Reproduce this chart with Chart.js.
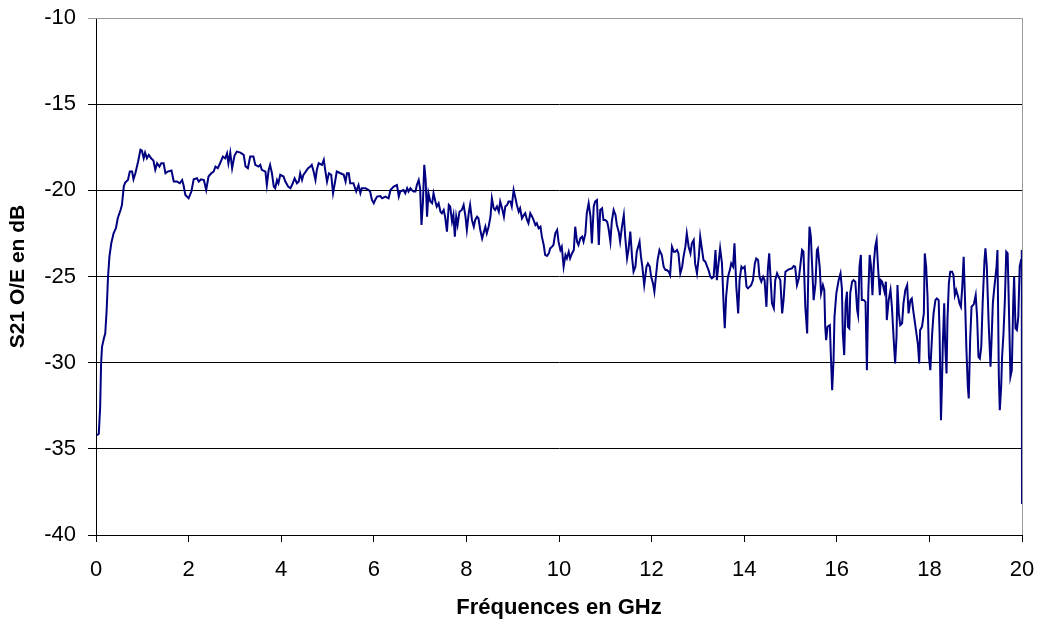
<!DOCTYPE html>
<html>
<head>
<meta charset="utf-8">
<script src="https://cdn.jsdelivr.net/npm/chart.js@4/dist/chart.umd.min.js"></script>
<style>
  body { margin: 0; background: #fff; }
  #wrap { width: 1041px; height: 623px; }
</style>
</head>
<body>
<div id="wrap"><canvas id="c" width="1041" height="623"></canvas></div>
<script>
// frequency in GHz
const freq = [
  0.02, 0.06, 0.09, 0.11, 0.13, 0.17, 0.20, 0.23, 0.26, 0.29, 0.33, 0.38, 0.43, 0.47, 0.53, 0.56, 0.60, 0.63, 0.69, 0.73,
  0.78, 0.81, 0.85, 0.91, 0.96, 0.99, 1.03, 1.06, 1.10, 1.14, 1.19, 1.24, 1.28, 1.32, 1.37, 1.41, 1.46, 1.50, 1.55, 1.63,
  1.68, 1.75, 1.81, 1.86, 1.89, 1.93, 2.00, 2.06, 2.11, 2.18, 2.22, 2.27, 2.33, 2.38, 2.43, 2.49, 2.54, 2.58, 2.63, 2.68,
  2.74, 2.79, 2.83, 2.86, 2.90, 2.94, 2.99, 3.04, 3.12, 3.19, 3.23, 3.28, 3.33, 3.40, 3.44, 3.51, 3.55, 3.58, 3.66, 3.69,
  3.73, 3.76, 3.80, 3.84, 3.87, 3.91, 3.94, 3.98, 4.05, 4.09, 4.15, 4.20, 4.25, 4.29, 4.34, 4.38, 4.41, 4.45, 4.48, 4.53,
  4.58, 4.63, 4.66, 4.70, 4.74, 4.77, 4.81, 4.88, 4.92, 4.95, 4.99, 5.03, 5.08, 5.12, 5.17, 5.20, 5.28, 5.35, 5.39, 5.42,
  5.46, 5.49, 5.56, 5.62, 5.67, 5.71, 5.74, 5.82, 5.89, 5.92, 5.96, 6.00, 6.03, 6.07, 6.14, 6.18, 6.25, 6.32, 6.36, 6.43,
  6.50, 6.54, 6.57, 6.64, 6.68, 6.72, 6.75, 6.79, 6.82, 6.86, 6.90, 6.93, 6.97, 7.00, 7.03, 7.06, 7.09, 7.12, 7.15, 7.18,
  7.22, 7.26, 7.29, 7.33, 7.36, 7.40, 7.44, 7.47, 7.51, 7.54, 7.58, 7.62, 7.65, 7.69, 7.72, 7.75, 7.78, 7.81, 7.85, 7.90,
  7.94, 7.98, 8.01, 8.05, 8.08, 8.12, 8.16, 8.19, 8.23, 8.26, 8.30, 8.34, 8.37, 8.41, 8.44, 8.48, 8.52, 8.55, 8.59, 8.62,
  8.66, 8.70, 8.73, 8.77, 8.81, 8.84, 8.88, 8.91, 8.95, 8.98, 9.02, 9.06, 9.09, 9.13, 9.16, 9.20, 9.24, 9.27, 9.31, 9.34,
  9.38, 9.42, 9.45, 9.49, 9.52, 9.56, 9.60, 9.63, 9.67, 9.70, 9.74, 9.78, 9.81, 9.85, 9.88, 9.92, 9.96, 9.99, 10.03, 10.06,
  10.10, 10.14, 10.17, 10.21, 10.24, 10.28, 10.32, 10.35, 10.39, 10.42, 10.46, 10.50, 10.53, 10.57, 10.60, 10.64, 10.68, 10.71, 10.75, 10.78,
  10.82, 10.86, 10.89, 10.93, 10.96, 11.00, 11.04, 11.07, 11.11, 11.14, 11.18, 11.22, 11.25, 11.29, 11.32, 11.36, 11.40, 11.43, 11.47, 11.50,
  11.54, 11.58, 11.61, 11.65, 11.68, 11.74, 11.77, 11.80, 11.84, 11.89, 11.92, 11.96, 11.99, 12.03, 12.06, 12.10, 12.13, 12.17, 12.22, 12.26,
  12.30, 12.33, 12.37, 12.40, 12.44, 12.48, 12.51, 12.55, 12.58, 12.62, 12.66, 12.69, 12.73, 12.76, 12.80, 12.84, 12.87, 12.91, 12.94, 12.98,
  13.02, 13.05, 13.09, 13.12, 13.16, 13.20, 13.23, 13.27, 13.30, 13.34, 13.38, 13.41, 13.45, 13.48, 13.52, 13.56, 13.58, 13.61, 13.65, 13.69,
  13.72, 13.76, 13.79, 13.83, 13.87, 13.90, 13.94, 13.97, 14.01, 14.05, 14.08, 14.12, 14.15, 14.19, 14.23, 14.26, 14.30, 14.33, 14.37, 14.41,
  14.44, 14.48, 14.51, 14.54, 14.56, 14.60, 14.64, 14.67, 14.71, 14.74, 14.78, 14.82, 14.85, 14.89, 14.96, 15.03, 15.07, 15.10, 15.14, 15.18,
  15.21, 15.25, 15.28, 15.32, 15.36, 15.39, 15.41, 15.44, 15.46, 15.50, 15.54, 15.57, 15.59, 15.63, 15.66, 15.70, 15.73, 15.75, 15.77, 15.80,
  15.85, 15.87, 15.90, 15.93, 15.95, 15.99, 16.04, 16.08, 16.11, 16.13, 16.16, 16.19, 16.22, 16.24, 16.27, 16.29, 16.33, 16.36, 16.40, 16.44,
  16.46, 16.49, 16.52, 16.54, 16.58, 16.62, 16.65, 16.68, 16.71, 16.74, 16.77, 16.80, 16.83, 16.86, 16.89, 16.93, 16.95, 16.98, 17.03, 17.06,
  17.08, 17.12, 17.16, 17.19, 17.23, 17.26, 17.29, 17.31, 17.34, 17.37, 17.41, 17.44, 17.48, 17.52, 17.55, 17.59, 17.62, 17.65, 17.68, 17.72,
  17.75, 17.78, 17.80, 17.84, 17.88, 17.90, 17.93, 17.96, 17.99, 18.02, 18.06, 18.09, 18.13, 18.16, 18.20, 18.22, 18.25, 18.27, 18.29, 18.32,
  18.34, 18.37, 18.39, 18.42, 18.45, 18.49, 18.52, 18.55, 18.58, 18.62, 18.65, 18.68, 18.71, 18.74, 18.77, 18.80, 18.83, 18.85, 18.88, 18.91,
  18.96, 19.00, 19.03, 19.06, 19.09, 19.12, 19.15, 19.19, 19.21, 19.24, 19.28, 19.32, 19.34, 19.37, 19.40, 19.42, 19.45, 19.47, 19.50, 19.52,
  19.55, 19.57, 19.60, 19.63, 19.66, 19.69, 19.72, 19.75, 19.78, 19.81, 19.83, 19.86, 19.89, 19.92, 19.95, 19.98, 19.995, 20.00
];

// S21 O/E in dB
const s21 = [
  -34.21, -34.12, -32.57, -30.05, -29.08, -28.6, -28.3, -26.95, -25.01, -23.85, -23.07, -22.49, -22.2, -21.62, -21.14, -20.85, -19.78, -19.55, -19.4, -18.91,
  -18.91, -19.36, -19.01, -18.33, -17.65, -17.69, -18.14, -17.81, -18.14, -17.94, -18.14, -18.27, -18.81, -18.43, -18.62, -18.43, -18.43, -19.01, -18.91, -18.85,
  -19.49, -19.49, -19.59, -19.4, -19.69, -20.27, -20.46, -20.07, -19.36, -19.3, -19.49, -19.36, -19.4, -19.98, -19.2, -19.01, -18.91, -18.62, -18.72, -18.43,
  -18.04, -18.14, -17.85, -18.43, -17.81, -18.72, -18.0, -17.75, -17.81, -17.94, -18.62, -18.72, -18.04, -18.04, -18.52, -18.62, -18.52, -18.81, -18.91, -19.69,
  -18.81, -18.52, -19.01, -19.78, -19.88, -19.4, -19.59, -19.1, -19.2, -19.49, -19.78, -19.88, -19.59, -19.3, -19.59, -19.49, -19.01, -19.4, -19.1, -18.91,
  -18.72, -18.62, -18.52, -18.91, -19.4, -18.81, -18.43, -18.52, -18.23, -18.81, -19.49, -19.01, -19.1, -20.17, -19.4, -18.91, -19.01, -19.1, -19.49, -19.01,
  -19.01, -19.59, -19.59, -20.07, -19.69, -20.17, -19.88, -19.88, -19.98, -20.07, -20.56, -20.75, -20.56, -20.36, -20.33, -20.46, -20.36, -20.46, -19.98, -19.78,
  -19.69, -20.36, -20.07, -19.98, -20.17, -19.88, -20.07, -19.88, -19.98, -20.07, -20.07, -19.69, -19.4, -19.88, -22.01, -20.75, -18.52, -19.4, -21.53, -20.17,
  -20.65, -20.75, -20.17, -20.65, -20.94, -20.75, -21.24, -21.33, -21.14, -21.53, -22.4, -20.85, -20.94, -21.82, -21.43, -22.69, -21.53, -22.01, -21.24, -21.14,
  -20.85, -21.53, -22.3, -21.33, -20.85, -21.72, -22.11, -21.72, -21.53, -21.62, -22.3, -22.79, -22.49, -22.11, -22.49, -22.11, -21.53, -20.46, -21.04, -21.14,
  -20.94, -21.24, -20.65, -21.04, -21.53, -20.94, -20.85, -20.65, -20.65, -20.94, -19.98, -20.46, -20.85, -21.24, -21.04, -21.62, -21.43, -21.33, -21.72, -21.91,
  -21.33, -21.53, -21.72, -22.01, -21.91, -22.2, -22.11, -22.69, -23.17, -23.75, -23.81, -23.66, -23.37, -23.27, -23.17, -22.49, -22.3, -22.98, -23.46, -23.27,
  -24.43, -23.75, -23.95, -23.56, -23.95, -23.66, -23.46, -22.11, -22.98, -23.17, -22.79, -22.69, -22.98, -22.5, -21.33, -20.75, -21.53, -23.08, -20.95, -20.65,
  -20.56, -23.17, -21.14, -21.04, -21.72, -21.72, -21.82, -22.2, -22.98, -21.82, -21.14, -21.43, -22.01, -22.4, -22.98, -22.11, -21.43, -22.69, -23.95, -23.46,
  -22.4, -23.95, -24.72, -24.43, -23.56, -22.98, -23.85, -24.43, -25.5, -24.43, -24.24, -24.43, -25.01, -25.4, -25.88, -24.82, -24.04, -23.46, -23.75, -24.43,
  -24.63, -24.63, -24.72, -24.92, -23.27, -23.56, -23.56, -23.46, -23.66, -24.82, -24.43, -23.85, -23.27, -22.5, -23.27, -23.66, -23.08, -22.88, -24.24, -24.82,
  -23.85, -22.69, -23.46, -24.04, -24.14, -24.43, -24.63, -25.01, -25.11, -25.01, -23.46, -25.21, -24.14, -23.37, -24.24, -26.95, -28.0, -26.17, -25.01, -24.63,
  -24.24, -24.43, -23.08, -25.59, -27.14, -25.21, -24.43, -24.53, -24.43, -25.59, -25.69, -25.59, -25.5, -25.21, -24.24, -23.95, -24.04, -25.01, -25.3, -25.01,
  -25.21, -26.76, -24.63, -23.66, -24.63, -26.56, -26.85, -25.21, -24.82, -25.01, -25.21, -27.14, -26.37, -24.72, -24.59, -24.53, -24.39, -24.43, -25.5, -25.11,
  -24.43, -23.46, -23.56, -26.76, -28.31, -24.04, -22.11, -22.69, -23.95, -26.37, -25.4, -23.46, -23.37, -24.43, -25.98, -25.5, -25.79, -27.92, -28.69, -27.92,
  -27.82, -29.47, -31.6, -29.85, -27.34, -25.98, -25.21, -24.82, -25.69, -28.31, -29.56, -26.56, -25.88, -27.92, -28.01, -25.98, -25.3, -25.21, -25.3, -26.95,
  -27.24, -24.43, -23.75, -26.37, -26.37, -26.47, -30.44, -25.98, -23.75, -24.43, -26.08, -24.24, -23.27, -22.88, -24.43, -26.08, -25.21, -25.3, -25.88, -25.3,
  -27.53, -26.37, -25.79, -26.76, -28.69, -30.05, -28.5, -25.5, -27.14, -27.82, -27.72, -26.56, -25.79, -25.5, -27.14, -26.37, -26.27, -26.95, -27.53, -28.31,
  -28.89, -30.05, -28.11, -27.92, -27.14, -23.66, -24.43, -26.17, -29.66, -30.44, -28.31, -27.14, -26.37, -26.27, -26.37, -28.31, -33.34, -31.4, -28.89, -26.56,
  -28.89, -30.63, -27.53, -25.4, -24.72, -24.72, -24.92, -26.08, -25.79, -26.17, -26.56, -26.76, -25.59, -23.85, -26.37, -29.27, -31.4, -32.08, -28.69, -26.76,
  -26.6, -26.08, -27.34, -29.66, -29.76, -29.08, -26.56, -24.04, -23.37, -24.43, -27.72, -30.24, -28.89, -26.56, -25.69, -25.21, -24.43, -23.46, -30.82, -32.76,
  -31.4, -29.66, -28.31, -26.37, -23.56, -23.66, -27.14, -30.82, -30.44, -26.56, -25.01, -28.01, -28.11, -27.34, -24.43, -24.04, -23.46, -38.2
];

const xTicks = { min: 0, max: 20, step: 2 };
const yTicks = { min: -40, max: -10, step: 5 };

const points = freq.map((f, i) => ({ x: f, y: s21[i] }));

// gray plot-area border on top and right, like the original
const plotBorder = {
  id: 'plotBorder',
  afterDraw(chart) {
    const { ctx, chartArea: a } = chart;
    ctx.save();
    ctx.strokeStyle = '#9a9a9a';
    ctx.lineWidth = 1;
    ctx.beginPath();
    ctx.moveTo(a.left, a.top + 0.5);
    ctx.lineTo(a.right + 0.5, a.top + 0.5);
    ctx.lineTo(a.right + 0.5, a.bottom);
    ctx.stroke();
    ctx.restore();
  }
};

const tickFont = { family: 'Arial, "Liberation Sans", sans-serif', size: 22 };

new Chart(document.getElementById('c'), {
  type: 'line',
  data: {
    datasets: [{
      data: points,
      borderColor: '#000080',
      borderWidth: 2,
      pointRadius: 0,
      tension: 0,
      fill: false
    }]
  },
  options: {
    responsive: false,
    animation: false,
    devicePixelRatio: 1,
    layout: { padding: { top: 18, right: 19, left: 0, bottom: 0 } },
    plugins: { legend: { display: false }, tooltip: { enabled: false } },
    scales: {
      x: {
        type: 'linear',
        min: xTicks.min,
        max: xTicks.max,
        afterFit(s) {
          s.height = 88;
          s.paddingLeft = 0;
          s.paddingRight = 0;
        },
        ticks: { stepSize: xTicks.step, color: '#000', font: tickFont, padding: 15, maxRotation: 0 },
        grid: { drawOnChartArea: false, drawTicks: true, tickLength: 7, color: '#000' },
        border: { color: '#000', width: 1 },
        title: {
          display: true,
          text: 'Fréquences en GHz',
          color: '#000',
          font: { family: 'Arial, "Liberation Sans", sans-serif', size: 22, weight: 'bold' },
          padding: { top: 0, bottom: 2 }
        }
      },
      y: {
        min: yTicks.min,
        max: yTicks.max,
        afterFit(s) {
          s.width = 96;
          s.paddingTop = 0;
          s.paddingBottom = 0;
        },
        ticks: { stepSize: yTicks.step, color: '#000', font: tickFont, padding: 12 },
        grid: {
          color: (c) => (c.tick && c.tick.value === yTicks.max ? '#9a9a9a' : '#000'),
          tickLength: 8,
          lineWidth: 1
        },
        border: { color: '#000', width: 1 },
        title: {
          display: true,
          text: 'S21 O/E en dB',
          color: '#000',
          font: { family: 'Arial, "Liberation Sans", sans-serif', size: 21, weight: 'bold' },
          padding: { top: 6, bottom: 0 }
        }
      }
    }
  },
  plugins: [plotBorder]
});
</script>
</body>
</html>
